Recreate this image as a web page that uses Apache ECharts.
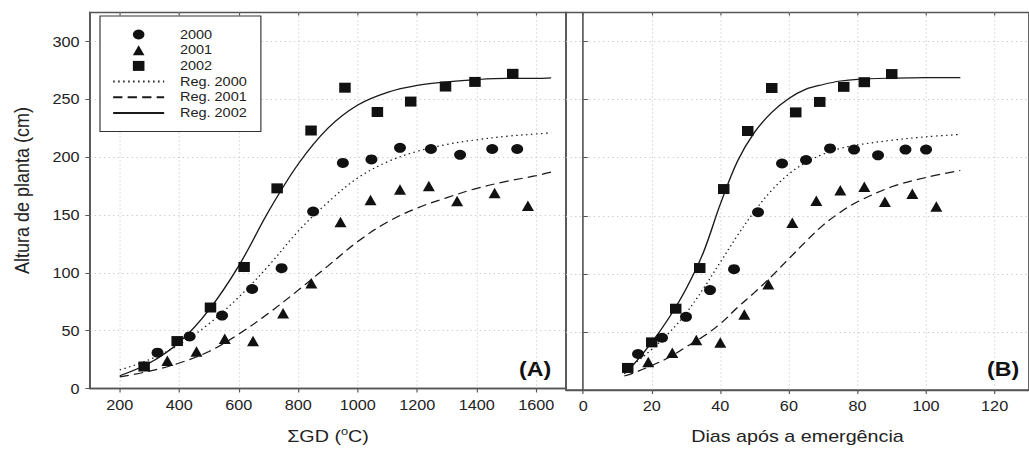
<!DOCTYPE html>
<html>
<head>
<meta charset="utf-8">
<script src="https://cdn.jsdelivr.net/npm/echarts@6/dist/echarts.min.js"></script>
<style>
  html, body { margin: 0; padding: 0; background: #fff; overflow: hidden; }
  #chart { position: absolute; left: 0; top: 0; height: 449px; transform-origin: 0 0; }
</style>
</head>
<body>
<div id="chart"></div>
<script>
// Plant height (Altura de planta) vs accumulated degree-days (ΣGD) and days after emergence

// Measured plant heights, 2000
const gd2000 = [327, 435, 544, 645, 744, 850, 950, 1046, 1142, 1246, 1344, 1452, 1536];
const dae2000 = [16, 23, 30, 37, 44, 51, 58, 65, 72, 79, 86, 94, 100];
const alt2000 = [31, 45, 63, 86, 104, 153, 195, 198, 208, 207, 202, 207, 207];

// Measured plant heights, 2001
const gd2001 = [360, 458, 553, 648, 749, 844, 942, 1043, 1142, 1239, 1334, 1460, 1572];
const dae2001 = [19, 26, 33, 40, 47, 54, 61, 68, 75, 82, 88, 96, 103];
const alt2001 = [24, 32, 43, 41, 65, 91, 144, 163, 172, 175, 162, 169, 158];

// Measured plant heights, 2002
const gd2002 = [282, 393, 505, 618, 729, 843, 957, 1066, 1178, 1295, 1394, 1521];
const dae2002 = [13, 20, 27, 34, 41, 48, 55, 62, 69, 76, 82, 90];
const alt2002 = [19, 41, 70, 105, 173, 223, 260, 239, 248, 261, 265, 272];

// Fitted regression curves vs ΣGD
const regGD = [200, 300, 400, 500, 600, 700, 800, 900, 1000, 1100, 1200, 1300, 1400, 1500, 1600, 1650];
const reg2000GD = [16, 25, 38, 56, 79, 106, 136, 161, 182, 196, 205, 211, 215, 218, 220, 221];
const reg2001GD = [10, 15, 22, 32, 47, 65, 85, 106, 127, 144, 156, 165, 173, 179, 184, 187];
const reg2002GD = [11, 22, 40, 68, 106, 153, 194, 225, 245, 256, 262, 265, 267, 268, 268, 268.5];

// Fitted regression curves vs days after emergence
const regDays = [12, 15, 20, 25, 30, 35, 40, 45, 50, 55, 60, 65, 70, 75, 80, 90, 100, 110];
const reg2000Days = [18, 23, 35, 49, 66, 87, 110, 133, 154, 172, 186, 196, 203, 208, 211, 215, 218, 220];
const reg2001Days = [12, 15, 21, 28, 37, 46, 57, 71, 84, 98, 113, 128, 142, 153, 162, 175, 183, 189];
const reg2002Days = [14, 23, 41, 62, 87, 118, 160, 197, 222, 239, 251, 259, 263, 266, 267.5, 268.5, 269, 269];

// Tick labels
const gdTicks = [200, 400, 600, 800, 1000, 1200, 1400, 1600];
const dayTicks = [0, 20, 40, 60, 80, 100, 120];
const heightTicks = [0, 50, 100, 150, 200, 250, 300];

// The figure uses a horizontally widened type face; draw narrower and widen the whole drawing.
const SX = 1.16;
const hx = px => px / SX;
const W = 1029 / SX;

const dom = document.getElementById('chart');
dom.style.width = W + 'px';
dom.style.transform = 'scaleX(' + SX + ')';

const FONT = "'Liberation Sans', Arial, sans-serif";
const INK = '#111';
const FRAME = '#555';

function pairs(xs, ys) { return xs.map((x, i) => [x, ys[i]]); }
const plain = v => String(v);

function bottomAxis(gridIndex, min, max, ticks, name, rich) {
  return {
    type: 'value', gridIndex, min, max, position: 'bottom',
    name, nameLocation: 'middle', nameGap: 37,
    nameTextStyle: { fontFamily: FONT, fontSize: 17, color: '#222', rich },
    axisLine: { show: true, lineStyle: { color: FRAME, width: 1.4 } },
    axisTick: { show: true, inside: false, length: 4, customValues: ticks, lineStyle: { color: FRAME, width: 1 } },
    axisLabel: { show: true, margin: 9, customValues: ticks, formatter: plain, fontFamily: FONT, fontSize: 14, color: '#222' },
    splitLine: { show: true, lineStyle: { color: '#c4c4c4', width: 1, type: [1, 3] } }
  };
}
function topAxis(gridIndex, min, max, ticks) {
  return {
    type: 'value', gridIndex, min, max, position: 'top',
    axisLine: { show: false },
    axisTick: { show: true, inside: true, length: 3, customValues: ticks, lineStyle: { color: FRAME, width: 1 } },
    axisLabel: { show: false },
    splitLine: { show: false }
  };
}

const supRich = {
  n: { fontFamily: FONT, fontSize: 17, color: '#222', lineHeight: 20 },
  s: { fontFamily: FONT, fontSize: 11, color: '#222', lineHeight: 11, verticalAlign: 'top' }
};

function scatter(name, xi, data, symbol, size) {
  return {
    name, type: 'scatter', xAxisIndex: xi, yAxisIndex: xi, data,
    symbol, symbolSize: size, itemStyle: { color: INK, opacity: 1 }, z: 3
  };
}
function curve(name, xi, data, type) {
  return {
    name, type: 'line', xAxisIndex: xi, yAxisIndex: xi, data,
    smooth: 0.35, symbol: 'none', showSymbol: false,
    itemStyle: { color: 'rgba(0,0,0,0)' },
    lineStyle: { color: '#1a1a1a', width: 1.2, type }, z: 2
  };
}

const dotted = [1.3, 3];
const dashed = [8, 4.5];

const option = {
  animation: false,
  backgroundColor: '#fff',
  textStyle: { fontFamily: FONT },
  grid: [
    { left: hx(90), top: 12.5, width: hx(476), height: 379.2, show: true, borderColor: FRAME, borderWidth: 1.4 },
    { left: hx(566), top: 12.5, width: hx(476.5), height: 379.2, show: true, borderColor: FRAME, borderWidth: 1.4 }
  ],
  xAxis: [
    bottomAxis(0, 100, 1700, gdTicks, '{n|ΣGD (}{s|o}{n|C)}', supRich),
    bottomAxis(1, -5, 130, dayTicks, 'Dias após a emergência', null),
    topAxis(0, 100, 1700, gdTicks),
    topAxis(1, -5, 130, dayTicks)
  ],
  yAxis: [
    {
      type: 'value', gridIndex: 0, min: 0, max: 325,
      name: 'Altura de planta (cm)', nameLocation: 'middle', nameGap: 50, nameRotate: 90,
      nameTextStyle: { fontFamily: FONT, fontSize: 18, color: '#222', padding: [0, 0, 0, 20] },
      axisLine: { show: true, lineStyle: { color: FRAME, width: 1.4 } },
      axisTick: { show: true, inside: false, length: 4, customValues: heightTicks, lineStyle: { color: FRAME, width: 1 } },
      axisLabel: { show: true, margin: 9, customValues: heightTicks, formatter: plain, fontFamily: FONT, fontSize: 14, color: '#222' },
      splitLine: { show: true, lineStyle: { color: '#c4c4c4', width: 1, type: [1, 3] } }
    },
    {
      type: 'value', gridIndex: 1, min: 0, max: 325,
      axisLine: { show: true, lineStyle: { color: FRAME, width: 1.4 } },
      axisTick: { show: true, inside: true, length: 4, customValues: heightTicks, lineStyle: { color: FRAME, width: 1 } },
      axisLabel: { show: false, customValues: heightTicks },
      splitLine: { show: true, lineStyle: { color: '#c4c4c4', width: 1, type: [1, 3] } }
    }
  ],
  legend: {
    data: [
      { name: '2000', icon: 'circle' },
      { name: '2001', icon: 'path://M5,0L10,10L0,10Z' },
      { name: '2002', icon: 'path://M0,0L10,0L10,10L0,10Z' },
      { name: 'Reg. 2000' },
      { name: 'Reg. 2001' },
      { name: 'Reg. 2002' }
    ],
    symbolKeepAspect: true,
    orient: 'vertical',
    left: hx(100), top: 16,
    itemWidth: hx(51), itemHeight: 10, itemGap: 2.7,
    padding: [12, hx(14), 12, hx(12)],
    backgroundColor: '#fff', borderColor: '#333', borderWidth: 1,
    selectedMode: false,
    textStyle: { fontFamily: FONT, fontSize: 12.5, lineHeight: 13, color: '#222', padding: [0, 0, 0, hx(10)] }
  },
  graphic: [
    { type: 'text', x: hx(535), y: 369, style: { text: '(A)', font: 'bold 20px ' + FONT, fill: '#111', align: 'center', verticalAlign: 'middle' } },
    { type: 'text', x: hx(1003), y: 369, style: { text: '(B)', font: 'bold 20px ' + FONT, fill: '#111', align: 'center', verticalAlign: 'middle' } }
  ],
  series: [
    scatter('2000', 0, pairs(gd2000, alt2000), 'circle', [hx(12), 10]),
    scatter('2001', 0, pairs(gd2001, alt2001), 'triangle', [hx(12), 10.5]),
    scatter('2002', 0, pairs(gd2002, alt2002), 'rect', [hx(11.5), 10]),
    curve('Reg. 2000', 0, pairs(regGD, reg2000GD), dotted),
    curve('Reg. 2001', 0, pairs(regGD, reg2001GD), dashed),
    curve('Reg. 2002', 0, pairs(regGD, reg2002GD), 'solid'),

    scatter('2000', 1, pairs(dae2000, alt2000), 'circle', [hx(12), 10]),
    scatter('2001', 1, pairs(dae2001, alt2001), 'triangle', [hx(12), 10.5]),
    scatter('2002', 1, pairs(dae2002, alt2002), 'rect', [hx(11.5), 10]),
    curve('Reg. 2000', 1, pairs(regDays, reg2000Days), dotted),
    curve('Reg. 2001', 1, pairs(regDays, reg2001Days), dashed),
    curve('Reg. 2002', 1, pairs(regDays, reg2002Days), 'solid')
  ]
};

const chart = echarts.init(dom, null, { renderer: 'svg' });
chart.setOption(option);
</script>
</body>
</html>
